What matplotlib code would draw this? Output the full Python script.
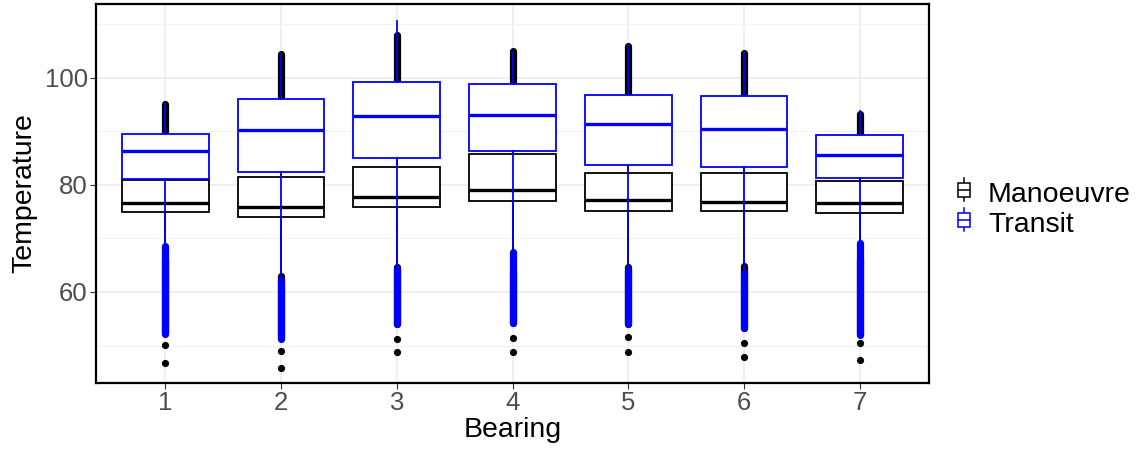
import numpy as np
import matplotlib
matplotlib.use("Agg")
import matplotlib.pyplot as plt
from matplotlib.patches import Rectangle

plt.rcParams['font.family'] = ['Liberation Sans', 'DejaVu Sans']

bearings = [1, 2, 3, 4, 5, 6, 7]

# Manoeuvre summary stats
man_q1 = [75.0, 74.0, 75.8, 77.0, 75.2, 75.2, 74.8]
man_med = [76.7, 75.8, 77.7, 79.1, 77.1, 76.9, 76.6]
man_q3 = [80.9, 81.4, 83.4, 85.7, 82.2, 82.2, 80.7]
man_lo = [66.2, 62.9, 64.6, 64.0, 64.6, 64.8, 65.9]
man_hi = [89.8, 92.5, 94.8, 98.7, 92.7, 92.7, 89.5]
# dense outlier runs (top of upper run, bottom of lower run)
man_out_top = [95.1, 104.5, 108.0, 105.0, 105.9, 104.7, 93.3]
man_out_bot = [52.3, 51.5, 54.1, 54.2, 54.1, 53.3, 52.2]
# isolated low outliers
man_pts = [[50.1, 46.8], [48.9, 45.8], [51.2, 48.8], [51.4, 48.8],
           [51.6, 48.8], [50.5, 47.9], [50.5, 47.3]]

# Transit summary stats
tr_q1 = [81.1, 82.5, 85.1, 86.4, 83.7, 83.4, 81.3]
tr_med = [86.3, 90.2, 92.8, 93.1, 91.3, 90.4, 85.6]
tr_q3 = [89.5, 96.0, 99.3, 98.9, 96.8, 96.6, 89.3]
tr_lo = [68.5, 62.3, 64.3, 67.5, 64.2, 63.6, 69.2]
tr_hi = [95.1, 104.5, 110.6, 104.9, 105.9, 104.7, 93.8]
tr_out_bot = [52.1, 51.3, 54.1, 54.2, 54.1, 53.3, 52.0]

BLUE = '#0000FF'
TICK_FS = 18.5
TITLE_FS = 20.5


def stats(q1, med, q3, lo, hi):
    return [dict(q1=a, med=b, q3=c, whislo=d, whishi=e, fliers=[])
            for a, b, c, d, e in zip(q1, med, q3, lo, hi)]


def draw_group(ax, st, color, z):
    ax.bxp(st, positions=bearings, widths=0.75, showfliers=False,
           showcaps=False, patch_artist=True, zorder=z,
           boxprops=dict(facecolor='white', edgecolor=color, linewidth=1.3),
           whiskerprops=dict(color=color, linewidth=1.3),
           medianprops=dict(color=color, linewidth=2.4, solid_capstyle='butt'))


fig = plt.figure(figsize=(11.42, 4.5), dpi=100)
ax = fig.add_axes([96 / 1142, 1 - 383 / 450, (929 - 96) / 1142, (383 - 4) / 450])

# Manoeuvre: outliers, then boxes
for x, lo, hi, top, bot, pts in zip(bearings, man_lo, man_hi, man_out_top,
                                    man_out_bot, man_pts):
    ax.plot([x, x], [hi, top], color='black', lw=5.2, solid_capstyle='round', zorder=2)
    ax.plot([x, x], [lo, bot], color='black', lw=5.2, solid_capstyle='round', zorder=2)
    ax.plot([x] * len(pts), pts, 'o', color='black', ms=5.2, mec='none', zorder=2)
draw_group(ax, stats(man_q1, man_med, man_q3, man_lo, man_hi), 'black', 3)

# Transit on top
for x, lo, bot in zip(bearings, tr_lo, tr_out_bot):
    ax.plot([x, x], [lo, bot], color=BLUE, lw=5.2, solid_capstyle='round', zorder=4)
draw_group(ax, stats(tr_q1, tr_med, tr_q3, tr_lo, tr_hi), BLUE, 5)

ax.set_xlim(0.4, 7.6)
ax.set_ylim(43.0, 113.8)
ax.set_xticks(bearings)
ax.set_xticklabels([str(b) for b in bearings])
ax.set_yticks([60, 80, 100])
ax.set_yticks([50, 70, 90, 110], minor=True)
ax.grid(True, which='major', color='#EBEBEB', lw=1.1, zorder=0)
ax.grid(True, which='minor', axis='y', color='#F2F2F2', lw=0.8, zorder=0)
ax.set_axisbelow(True)
ax.tick_params(which='major', length=4, width=0.8, color='#333333',
               labelsize=TICK_FS, labelcolor='#4D4D4D', pad=2)
ax.tick_params(which='minor', length=0)
for s in ax.spines.values():
    s.set_linewidth(1.6)
    s.set_color('black')

ax.set_xlabel('Bearing', fontsize=TITLE_FS, labelpad=1)
ax.set_ylabel('Temperature', fontsize=TITLE_FS, labelpad=5)

# legend drawn in its own pixel-space axes
lg = fig.add_axes([940 / 1142, 1 - 240 / 450, 200 / 1142, 70 / 450])
lg.set_xlim(940, 1140)
lg.set_ylim(240, 170)
lg.axis('off')
for yc, col, lab in [(190, 'black', 'Manoeuvre'), (220, BLUE, 'Transit')]:
    lg.plot([963.7, 963.7], [yc - 12, yc + 11], color=col, lw=1.1)
    lg.add_patch(Rectangle((957.5, yc - 6.7), 12.5, 13.4, facecolor='white',
                           edgecolor=col, lw=1.1, zorder=3))
    lg.plot([957.5, 970], [yc, yc], color=col, lw=1.1, zorder=4)
    lg.text(988, yc + 11.5, lab, fontsize=TITLE_FS, va='baseline', ha='left')

fig.savefig('out.png', dpi=100)
